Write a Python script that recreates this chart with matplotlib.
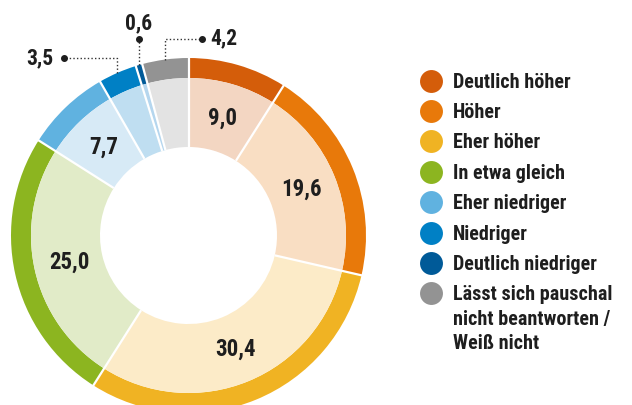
import matplotlib
matplotlib.use("Agg")
import matplotlib.pyplot as plt
from matplotlib import font_manager
import numpy as np

categories = ["Deutlich höher", "Höher", "Eher höher", "In etwa gleich",
              "Eher niedriger", "Niedriger", "Deutlich niedriger",
              "Lässt sich pauschal\nnicht beantworten /\nWeiß nicht"]
values = [9.0, 19.6, 30.4, 25.0, 7.7, 3.5, 0.6, 4.2]
value_labels = ["9,0", "19,6", "30,4", "25,0", "7,7", "3,5", "0,6", "4,2"]

outer_colors = ["#D45D0A", "#E8790A", "#F0B323", "#8CB520",
                "#60B2E0", "#0080C5", "#005A98", "#939393"]
inner_colors = ["#F3D6C2", "#F9DEC3", "#FCEBC8", "#E1EBC8",
                "#D7EAF6", "#BFDEF1", "#B5D6EE", "#E3E3E3"]

# pick a narrow font if there is one
installed = {f.name for f in font_manager.fontManager.ttflist}
font = "DejaVu Sans"
for name in ["Liberation Sans Narrow", "DejaVu Sans Condensed", "Roboto Condensed", "Liberation Sans"]:
    if name in installed:
        font = name
        break
plt.rcParams["font.family"] = [font, "DejaVu Sans"]

W, H = 632, 405
cx, cy, R = 188.5, 235.5, 177.5
r_mid = 157.5 / R
r_hole = 88.5 / R
text_color = "#1e1e1e"


def px(x, y):
    # pixel position -> data position of the pie axes
    return (x - cx) / R, (cy - y) / R


fig = plt.figure(figsize=(W / 100, H / 100), dpi=100)
ax = fig.add_axes([0, 0, 1, 1])

ax.pie(values, radius=1.0, colors=outer_colors, startangle=90, counterclock=False,
       wedgeprops=dict(width=1.0 - r_mid, linewidth=0))
ax.pie(values, radius=r_mid, colors=inner_colors, startangle=90, counterclock=False,
       wedgeprops=dict(width=r_mid - r_hole, linewidth=0))

# white radial separators
cum = np.concatenate([[0], np.cumsum(values)])
for c in cum[:-1]:
    a = np.deg2rad(90 - c * 3.6)
    ax.plot([r_hole * np.cos(a), 1.01 * np.cos(a)], [r_hole * np.sin(a), 1.01 * np.sin(a)],
            color="white", linewidth=1.6, solid_capstyle="butt")

# labels inside the pale ring
mids = 90 - (cum[:-1] + np.array(values) / 2) * 3.6
for i in range(5):
    a = np.deg2rad(mids[i])
    ax.text(0.69 * np.cos(a), 0.69 * np.sin(a), value_labels[i], ha="center", va="center",
            fontsize=16.5, fontweight="bold", color=text_color)

# leader lines for the small slices
leader = {5: (58, 64, "left"), 6: (39, None, "up"), 7: (38.5, 202, "right")}
for i, (ly, dot_x, side) in leader.items():
    a = np.deg2rad(mids[i])
    x0, y0 = np.cos(a), np.sin(a)
    ytop = px(0, ly)[1]
    if dot_x is None:
        ax.plot([x0, x0], [y0, ytop], color="#333333", linewidth=1, linestyle=(0, (1, 1.6)))
        ax.plot(x0, ytop, "o", color="#1e1e1e", markersize=4)
        ax.text(x0, px(0, 23)[1], value_labels[i], ha="center", va="center",
                fontsize=15.5, fontweight="bold", color=text_color)
    else:
        dx = px(dot_x, 0)[0]
        ax.plot([x0, x0, dx], [y0, ytop, ytop], color="#333333", linewidth=1,
                linestyle=(0, (1, 1.6)))
        ax.plot(dx, ytop, "o", color="#1e1e1e", markersize=4)
        if side == "left":
            ax.text(dx - 0.06, ytop, value_labels[i], ha="right", va="center",
                    fontsize=15.5, fontweight="bold", color=text_color)
        else:
            ax.text(dx + 0.045, ytop, value_labels[i], ha="left", va="center",
                    fontsize=15.5, fontweight="bold", color=text_color)

# legend
for i, (cat, col) in enumerate(zip(categories, outer_colors)):
    ly = 80.5 + i * 30.4
    lx, lyy = px(431, ly)
    ax.plot(lx, lyy, "o", color=col, markersize=16.5, markeredgewidth=0)
    for k, line in enumerate(cat.split("\n")):
        tx, ty = px(453, ly + 1.5 + k * 24.5)
        ax.text(tx, ty, line, ha="left", va="center",
                fontsize=14.5, fontweight="bold", color=text_color)

ax.set_xlim(px(0, 0)[0], px(W, 0)[0])
ax.set_ylim(px(0, H)[1], px(0, 0)[1])
ax.set_aspect("auto")
ax.axis("off")

fig.savefig("out.png", dpi=100)
